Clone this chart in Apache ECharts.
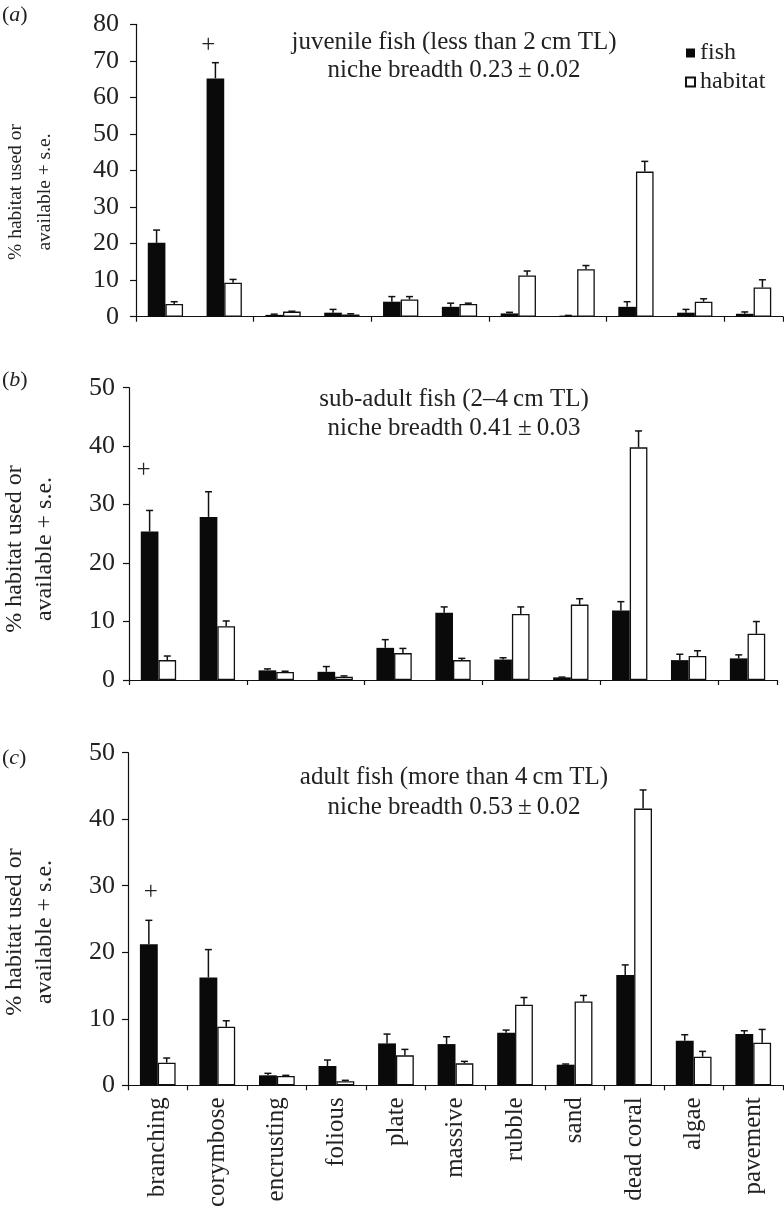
<!DOCTYPE html>
<html>
<head>
<meta charset="utf-8">
<script src="https://cdn.jsdelivr.net/npm/echarts@6/dist/echarts.min.js"></script>
<style>
html,body{margin:0;padding:0;background:#fff;}
#chart{width:784px;height:1210px;}
</style>
</head>
<body>
<div id="chart"></div>
<script>
// ---------- DATA ----------
const categories = ['branching','corymbose','encrusting','folious','plate','massive','rubble','sand','dead coral','algae','pavement'];

// panel (a) juvenile fish
const fishA   = [20.2, 65.2, 0.5, 1.1, 4.1, 2.7, 0.9, 0.3, 2.7, 1.1, 0.8];
const fishASE = [3.5, 4.3, 0.2, 0.9, 1.4, 1.0, 0.3, 0.05, 1.4, 0.9, 0.5];
const habA    = [3.5, 9.3, 1.4, 0.6, 4.7, 3.5, 11.3, 13.0, 39.7, 4.1, 8.0];
const habASE  = [0.6, 0.9, 0.1, 0.2, 0.8, 0.2, 1.2, 1.0, 2.8, 0.8, 2.1];

// panel (b) sub-adult fish
const fishB   = [25.4, 27.9, 1.65, 1.4, 5.5, 11.5, 3.5, 0.45, 11.9, 3.4, 3.7];
const fishBSE = [3.6, 4.3, 0.25, 0.9, 1.4, 1.0, 0.3, 0.05, 1.5, 1.0, 0.6];
const habB    = [3.4, 9.2, 1.37, 0.57, 4.6, 3.4, 11.3, 12.9, 39.8, 4.1, 7.9];
const habBSE  = [0.7, 0.9, 0.13, 0.13, 0.8, 0.3, 1.2, 1.0, 2.8, 0.9, 2.1];

// panel (c) adult fish
const fishC   = [21.2, 16.2, 1.5, 2.9, 6.3, 6.2, 7.9, 3.1, 16.6, 6.7, 7.7];
const fishCSE = [3.6, 4.2, 0.3, 0.9, 1.4, 1.1, 0.4, 0.1, 1.5, 0.9, 0.5];
const habC    = [3.4, 8.8, 1.4, 0.6, 4.5, 3.3, 12.1, 12.6, 41.6, 4.3, 6.4];
const habCSE  = [0.7, 0.9, 0.1, 0.15, 0.9, 0.3, 1.1, 0.9, 2.8, 0.8, 2.0];

// "+" markers: [category index, y value]
const plusA = [1, 74.1];
const plusB = [0, 35.8];
const plusC = [0, 29.0];

// axis ranges
const yMax = [80, 50, 50];
const yInterval = [10, 10, 10];

const panelLabels = ['a', 'b', 'c'];
const panelTitles = [
  ['juvenile fish (less than 2\u2009cm TL)', 'niche breadth 0.23\u2009\u00b1\u20090.02'],
  ['sub-adult fish (2\u20134\u2009cm TL)', 'niche breadth 0.41\u2009\u00b1\u20090.03'],
  ['adult fish (more than 4\u2009cm TL)', 'niche breadth 0.53\u2009\u00b1\u20090.02']
];
const yName = ['% habitat used or', 'available + s.e.'];
const legendNames = ['fish', 'habitat'];

// ---------- STYLE / LAYOUT ----------
const FONT = '"Liberation Serif", "Times New Roman", serif';
const TXT = '#222';
const grids = [
  {left: 136, top: 24.3, width: 647, height: 292.4},
  {left: 129, top: 387.7, width: 648, height: 292.3},
  {left: 128, top: 752.7, width: 655, height: 336}
];
const labelMargin = [17, 14, 13];
const plusOffset = [-16, -15, -7];
const titleCenter = [[454, 42, 28], [454, 399.5, 29], [454, 777, 30]];
const panelLabelY = [15, 380, 758];
const yNameLayout = [[30, 192, 19.5, 29], [30, 549, 24, 30], [30, 932, 24, 30]];

const fishData = [fishA, fishB, fishC];
const fishSE = [fishASE, fishBSE, fishCSE];
const habData = [habA, habB, habC];
const habSE = [habASE, habBSE, habCSE];
const plusData = [plusA, plusB, plusC];

function errRender(frac) {
  return function (params, api) {
    const i = api.value(0), v = api.value(1), t = api.value(2);
    const band = api.size([1, 0])[0];
    const p0 = api.coord([i, v]);
    const p1 = api.coord([i, t]);
    const x = p0[0] + frac * band;
    return {
      type: 'group',
      children: [
        {type: 'line', shape: {x1: x, y1: p0[1], x2: x, y2: p1[1]}, style: {stroke: '#111', lineWidth: 1.5}},
        {type: 'line', shape: {x1: x - 3.5, y1: p1[1], x2: x + 3.5, y2: p1[1]}, style: {stroke: '#111', lineWidth: 1.5}}
      ]
    };
  };
}
function plusRender(off) {
  return function (params, api) {
    const p = api.coord([api.value(0), api.value(1)]);
    return {
      type: 'text',
      x: p[0] + off,
      y: p[1],
      style: {text: '+', font: '25px ' + FONT, fill: TXT, textAlign: 'center', textVerticalAlign: 'middle'}
    };
  };
}

const xAxes = [], yAxes = [], series = [], graphics = [];
for (let p = 0; p < 3; p++) {
  xAxes.push({
    type: 'category', gridIndex: p, data: categories,
    axisLine: {lineStyle: {color: '#111', width: 1.2}},
    axisTick: {show: true, length: 5, lineStyle: {color: '#111', width: 1.2}},
    axisLabel: p === 2 ? {show: true, rotate: 90, interval: 0, fontSize: 25, fontFamily: FONT, color: TXT, margin: 12} : {show: false},
    splitLine: {show: false}
  });
  yAxes.push({
    type: 'value', gridIndex: p, min: 0, max: yMax[p], interval: yInterval[p],
    axisLine: {show: true, lineStyle: {color: '#111', width: 1.2}},
    axisTick: {show: true, length: 6, lineStyle: {color: '#111', width: 1.2}},
    axisLabel: {fontSize: 26, fontFamily: FONT, color: TXT, margin: labelMargin[p]},
    splitLine: {show: false}
  });
  series.push({
    name: legendNames[0], type: 'bar', xAxisIndex: p, yAxisIndex: p,
    data: fishData[p], barGap: '0%', barCategoryGap: '40%',
    itemStyle: {color: '#0a0a0a', borderColor: '#0a0a0a', borderWidth: 0},
    silent: true
  });
  series.push({
    name: legendNames[1], type: 'bar', xAxisIndex: p, yAxisIndex: p,
    data: habData[p], barGap: '0%', barCategoryGap: '40%',
    itemStyle: {color: '#ffffff', borderColor: '#111', borderWidth: 1.3},
    silent: true
  });
  series.push({
    type: 'custom', xAxisIndex: p, yAxisIndex: p, z: 5, silent: true,
    renderItem: errRender(-0.15),
    encode: {x: 0, y: [1, 2]},
    data: fishData[p].map((v, i) => [i, v, v + fishSE[p][i]])
  });
  series.push({
    type: 'custom', xAxisIndex: p, yAxisIndex: p, z: 5, silent: true,
    renderItem: errRender(0.15),
    encode: {x: 0, y: [1, 2]},
    data: habData[p].map((v, i) => [i, v, v + habSE[p][i]])
  });
  series.push({
    type: 'custom', xAxisIndex: p, yAxisIndex: p, z: 5, silent: true,
    renderItem: plusRender(plusOffset[p]),
    encode: {x: 0, y: 1},
    data: [plusData[p]]
  });

  // panel titles
  const tc = titleCenter[p];
  graphics.push({
    type: 'text', x: tc[0], y: tc[1], silent: true,
    style: {text: panelTitles[p][0], font: '25px ' + FONT, fill: TXT, textAlign: 'center', textVerticalAlign: 'middle'}
  });
  graphics.push({
    type: 'text', x: tc[0], y: tc[1] + tc[2], silent: true,
    style: {text: panelTitles[p][1], font: '25px ' + FONT, fill: TXT, textAlign: 'center', textVerticalAlign: 'middle'}
  });
  // panel label (a)/(b)/(c)
  graphics.push({
    type: 'text', x: 2, y: panelLabelY[p], silent: true,
    style: {
      text: '(' + '{i|' + panelLabels[p] + '})',
      font: '22px ' + FONT, fill: TXT, textAlign: 'left', textVerticalAlign: 'middle',
      rich: {i: {fontStyle: 'italic', fontSize: 22, fontFamily: FONT, fill: TXT}}
    }
  });
  // y axis name (two lines rotated)
  const yl = yNameLayout[p];
  graphics.push({
    type: 'text', x: yl[0], y: yl[1], rotation: Math.PI / 2, silent: true,
    style: {text: yName[0] + '\n' + yName[1], font: yl[2] + 'px ' + FONT, fill: TXT,
      textAlign: 'center', textVerticalAlign: 'middle', lineHeight: yl[3]}
  });
}

const chart = echarts.init(document.getElementById('chart'), null, {renderer: 'canvas'});
chart.setOption({
  backgroundColor: '#ffffff',
  animation: false,
  grid: grids,
  xAxis: xAxes,
  yAxis: yAxes,
  legend: {
    data: legendNames, orient: 'vertical', left: 680, top: 36,
    itemWidth: 9, itemHeight: 9, itemGap: 5, icon: 'rect',
    textStyle: {fontSize: 24, fontFamily: FONT, color: TXT, lineHeight: 24},
    selectedMode: false
  },
  series: series,
  graphic: graphics
});
</script>
</body>
</html>
